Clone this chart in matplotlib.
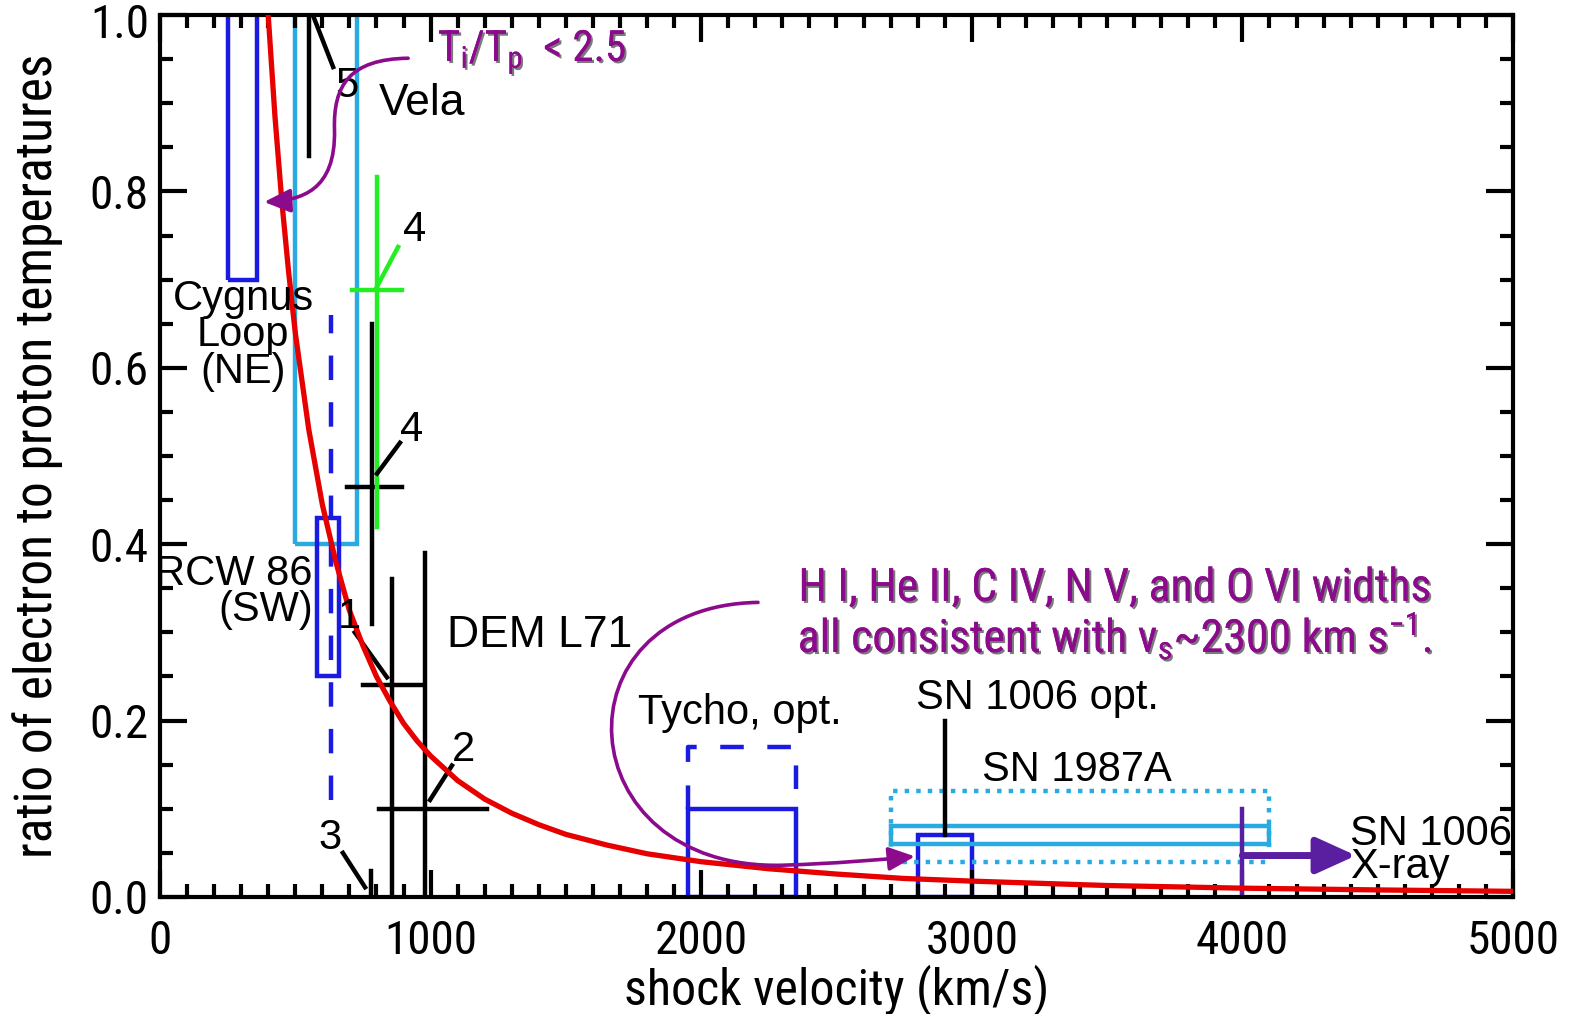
import matplotlib
matplotlib.use('Agg')
import matplotlib.pyplot as plt
import matplotlib.patheffects as pe
import matplotlib.transforms as mtransforms
from matplotlib import font_manager
from matplotlib.patches import Rectangle, FancyArrowPatch
from matplotlib.path import Path
from matplotlib.ticker import MultipleLocator

names = {f.name for f in font_manager.fontManager.ttflist}
NARROW = 'Liberation Sans'
for cand in ['Liberation Sans Narrow', 'Arial Narrow', 'Roboto Condensed', 'Archivo Narrow']:
    if cand in names:
        NARROW = cand
        break
plt.rcParams['font.family'] = ['Liberation Sans', 'DejaVu Sans']
plt.rcParams['mathtext.fontset'] = 'custom'
plt.rcParams['mathtext.rm'] = NARROW
plt.rcParams['mathtext.default'] = 'rm'

# red curve
curve_v = [400, 425, 450, 475, 500, 550, 600, 650, 700, 750, 800, 850, 900, 950, 1000,
           1100, 1200, 1300, 1400, 1500, 1650, 1800, 2000, 2250, 2500, 2750, 3000,
           3500, 4000, 4500, 5000]
curve_r = [1.00, 0.885, 0.79, 0.71, 0.64, 0.53, 0.445, 0.38, 0.325, 0.285, 0.25, 0.222,
           0.197, 0.177, 0.16, 0.132, 0.111, 0.095, 0.082, 0.071, 0.059, 0.049, 0.040,
           0.032, 0.026, 0.021, 0.018, 0.013, 0.010, 0.008, 0.0064]

# boxes: v_lo, v_hi, r_lo, r_hi
cygnus_box = (250, 360, 0.70, 1.02)
vela_box = (500, 730, 0.40, 1.02)
rcw86_box = (580, 660, 0.25, 0.43)
tycho_solid = (1950, 2350, 0.0, 0.10)
tycho_dashed = (1950, 2350, 0.10, 0.17)
sn1006_box = (2800, 3000, 0.0, 0.07)
sn1987a_box = (2700, 4100, 0.06, 0.08)
sn1987a_range = (2700, 4100, 0.04, 0.12)

# error bars: v, r, v_lo, v_hi, r_lo, r_hi
dem1_bar = (857, 0.24, 750, 972, 0.0, 0.36)
dem2_bar = (980, 0.10, 810, 1208, 0.0, 0.39)
green4_bar = (802, 0.688, 710, 894, 0.42, 0.816)
black4_bar = (783, 0.465, 691, 894, 0.31, 0.65)
vela_line = (550, 0.84, 1.02)
pt3_line = (780, 0.0, 0.03)
rcw_dash = (632, 0.11, 0.66)
sn1006_stem = (2900, 0.07, 0.20)
xray_line = (4000, 0.0, 0.10)
xray_arrow = (4000, 4420, 0.047)

# numbered labels: text, label pos, leader start, leader end, colour
num_labels = ['5', '4', '4', '1', '2', '3']
num_pos = [(690, 0.92), (942, 0.756), (931, 0.53), (702, 0.318), (1120, 0.167), (628, 0.067)]
num_lead = [((565, 1.0), (640, 0.941)), ((802, 0.692), (880, 0.737)),
            ((802, 0.48), (887, 0.515)), ((720, 0.300), (839, 0.249)),
            ((998, 0.11), (1079, 0.149)), ((676, 0.05), (758, 0.011))]
num_col = ['k', '#22ee22', 'k', 'k', 'k', 'k']

RED = '#e60000'
DBLUE = '#1a1ae0'
LBLUE = '#29abe2'
GREEN = '#22ee22'
MAG = '#8c0a8c'
VIOL = '#5a1ea0'

fig = plt.figure(figsize=(15.79, 10.14), dpi=100)
ax = fig.add_axes([0.1013, 0.1154, 0.8569, 0.8698])

def box(b, color, ls='-', lw=3.2):
    ax.add_patch(Rectangle((b[0], b[2]), b[1] - b[0], b[3] - b[2], fill=False,
                           edgecolor=color, linestyle=ls, linewidth=lw))

box(cygnus_box, DBLUE)
box(vela_box, LBLUE)
box(rcw86_box, DBLUE)
box(tycho_solid, DBLUE)
t = tycho_dashed
ax.plot([t[0], t[0], t[1], t[1]], [t[2], t[3], t[3], t[2]], color=DBLUE, lw=3.2,
        linestyle=(0, (5.3, 5.3)))
box(sn1006_box, DBLUE)
box(sn1987a_box, LBLUE)
box(sn1987a_range, LBLUE, ls=(0, (1.0, 1.6)))

for v, r, vlo, vhi, rlo, rhi in [dem1_bar, dem2_bar, black4_bar]:
    ax.plot([v, v], [rlo, rhi], color='k', lw=3.2)
    ax.plot([vlo, vhi], [r, r], color='k', lw=3.2)
v, r, vlo, vhi, rlo, rhi = green4_bar
ax.plot([v, v], [rlo, rhi], color=GREEN, lw=3.2)
ax.plot([vlo, vhi], [r, r], color=GREEN, lw=3.2)

ax.plot([vela_line[0]] * 2, vela_line[1:], color='k', lw=3.2)
ax.plot([pt3_line[0]] * 2, pt3_line[1:], color='k', lw=3.2)
ax.plot([rcw_dash[0]] * 2, rcw_dash[1:], color=DBLUE, lw=3.2, linestyle=(0, (5.5, 5)))
ax.plot([sn1006_stem[0]] * 2, sn1006_stem[1:], color='k', lw=3.2)
ax.plot([xray_line[0]] * 2, xray_line[1:], color=VIOL, lw=3.2)
ax.add_patch(FancyArrowPatch((xray_arrow[0], xray_arrow[2]), (xray_arrow[1], xray_arrow[2]),
                             arrowstyle='-|>,head_length=1.1,head_width=0.5',
                             mutation_scale=22, color=VIOL, lw=5, shrinkA=0, shrinkB=0))

ax.plot(curve_v, curve_r, color=RED, lw=3.8, zorder=3)

for s, p, ld, c in zip(num_labels, num_pos, num_lead, num_col):
    ax.plot([ld[0][0], ld[1][0]], [ld[0][1], ld[1][1]], color=c, lw=3.2)
    ax.text(p[0], p[1], s, fontsize=30, ha='center', va='center')

# magenta curved arrows
shadow = [pe.withSimplePatchShadow(offset=(1.5, -1.5), shadow_rgbFace='#222222', alpha=0.6),
          pe.Normal()]
p1 = Path([(917, 0.951), (700, 0.95), (640, 0.92), (645, 0.87),
           (650, 0.80), (520, 0.79), (385, 0.788)],
          [Path.MOVETO, Path.CURVE4, Path.CURVE4, Path.CURVE4,
           Path.CURVE4, Path.CURVE4, Path.CURVE4])
ax.add_patch(FancyArrowPatch(path=p1, arrowstyle='-|>,head_length=1.0,head_width=0.45',
                             mutation_scale=16, color=MAG, lw=2.6, zorder=5))
p2 = Path([(2210, 0.334), (1450, 0.33), (1500, 0.03), (2300, 0.036),
           (2500, 0.038), (2650, 0.042), (2790, 0.046)],
          [Path.MOVETO, Path.CURVE4, Path.CURVE4, Path.CURVE4,
           Path.CURVE4, Path.CURVE4, Path.CURVE4])
ax.add_patch(FancyArrowPatch(path=p2, arrowstyle='-|>,head_length=1.0,head_width=0.45',
                             mutation_scale=16, color=MAG, lw=2.6, zorder=5))

ax.text(1027, 0.957, r'T$_i$/T$_p$  < 2.5', color=MAG, fontsize=31, family=NARROW,
        ha='left', va='center', path_effects=shadow)
ax.text(3530, 0.321, 'H I, He II, C IV, N V, and O VI widths\n'
        r'all consistent with v$_s$~2300 km s$^{-1}$.', color=MAG, fontsize=33,
        family=NARROW, ha='center', va='center', linespacing=1.0, path_effects=shadow)

# object names
ax.text(810, 0.90, 'Vela', fontsize=32, ha='left', va='center')
ax.text(307, 0.637, 'Cygnus\nLoop\n(NE)', fontsize=30, ha='center', va='center', linespacing=0.89)
ax.text(565, 0.346, 'RCW 86\n(SW)', fontsize=30, ha='right', va='center',
        multialignment='right', linespacing=0.89)
ax.text(1061, 0.297, 'DEM L71', fontsize=32, ha='left', va='center')
ax.text(2143, 0.209, 'Tycho, opt.', fontsize=30, ha='center', va='center')
ax.text(3241, 0.226, 'SN 1006 opt.', fontsize=30, ha='center', va='center')
ax.text(3389, 0.144, 'SN 1987A', fontsize=30, ha='center', va='center')
ax.text(4398, 0.053, 'SN 1006\nX-ray', fontsize=30, ha='left', va='center', linespacing=0.77)

ax.set_xlim(0, 5000)
ax.set_ylim(0, 1.0)
ax.xaxis.set_major_locator(MultipleLocator(1000))
ax.xaxis.set_minor_locator(MultipleLocator(100))
ax.yaxis.set_major_locator(MultipleLocator(0.2))
ax.yaxis.set_minor_locator(MultipleLocator(0.05))
ax.yaxis.set_major_formatter(lambda y, pos: f'{y:.1f}')
ax.tick_params(which='both', direction='in', top=True, right=True, width=3, colors='k')
ax.tick_params(which='major', length=19.5)
ax.tick_params(which='minor', length=9.5)
ax.tick_params(axis='x', pad=16)
ax.tick_params(axis='y', pad=8)
for lab in ax.get_xticklabels() + ax.get_yticklabels():
    lab.set_family(NARROW)
    lab.set_fontsize(34)
for s in ax.spines.values():
    s.set_linewidth(3)

ax.set_xlabel('shock velocity (km/s)', fontsize=36, family=NARROW)
ax.set_ylabel('ratio of electron to proton temperatures', fontsize=37, family=NARROW)
ax.xaxis.set_label_coords(0.5, -0.076)
ax.yaxis.set_label_coords(-0.072, 0.5)

# nudge the top "1.0" label down so it stays inside the figure
fig.canvas.draw()
for tick in ax.yaxis.get_major_ticks():
    if abs(tick.get_loc() - 1.0) < 1e-6:
        lab = tick.label1
        lab.set_transform(lab.get_transform() +
                          mtransforms.ScaledTranslation(0, -4 / 72, fig.dpi_scale_trans))

fig.savefig('out.png', dpi=100)
